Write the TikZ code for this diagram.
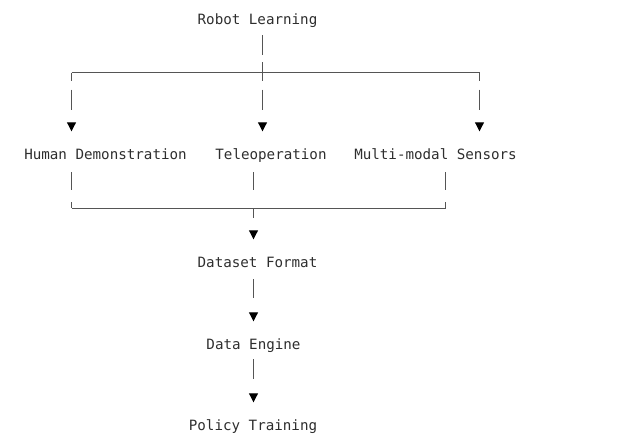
\documentclass[tikz,border=0pt]{standalone}
\usepackage{fontspec}
\setmonofont{DejaVu Sans Mono}
\usetikzlibrary{arrows.meta}
\definecolor{inkgray}{HTML}{2E2E2E}
\definecolor{rulegray}{HTML}{555555}

\begin{document}
\begin{tikzpicture}[x=1pt, y=-1pt,
    lbl/.style={anchor=base, inner sep=0pt, text height=10.5pt, text depth=3pt,
      text=inkgray, font=\ttfamily\fontsize{14.2}{17}\selectfont},
    rule/.style={draw=rulegray, line width=1pt},
    drop/.style={rule, -{Triangle[width=9pt, length=9pt, color=black]}, shorten >=17pt}]
    \useasboundingbox (0,0) rectangle (617,442);

    \node[lbl] (robot) at (257.5,24) {Robot Learning};

    \node[lbl] (human) at (105.5,159) {Human Demonstration};
    \node[lbl] (teleop) at (271,159) {Teleoperation};
    \node[lbl] (sensors) at (435.5,159) {Multi-modal Sensors};

    \node[lbl] (dataset) at (257.5,267) {Dataset Format};
    \node[lbl] (engine) at (253.5,349) {Data Engine};
    \node[lbl] (policy) at (253,430) {Policy Training};

    \coordinate (splitL) at (71.5,72.5);
    \coordinate (splitC) at (262.5,72.5);
    \coordinate (splitR) at (479.5,72.5);

    \coordinate (joinL) at (71.5,208.5);
    \coordinate (joinC) at (253.5,208.5);
    \coordinate (joinR) at (445.5,208.5);

    \draw[rule, shorten <=8pt, dash pattern=on 20pt off 7pt] (robot.south -| splitC) -- (splitC);
    \draw[rule] (splitL) -- (splitR);

    \draw[drop, dash pattern=on 8pt off 9pt on 20pt off 100pt] (splitL) -- (splitL |- human.north);
    \draw[drop, dash pattern=on 8pt off 9pt on 20pt off 100pt] (splitC) -- (splitC |- teleop.north);
    \draw[drop, dash pattern=on 8pt off 9pt on 20pt off 100pt] (splitR) -- (splitR |- sensors.north);

    \draw[rule, shorten <=10pt, dash pattern=on 18pt off 12pt on 6pt] (human.south -| joinL) -- (joinL);
    \draw[rule, shorten <=10pt, dash pattern=on 18pt off 40pt] (teleop.south -| joinC) -- (joinC);
    \draw[rule, shorten <=10pt, dash pattern=on 18pt off 12pt on 6pt] (sensors.south -| joinR) -- (joinR);
    \draw[rule] (joinL) -- (joinR);

    \draw[drop, dash pattern=on 9pt off 100pt] (joinC) -- (joinC |- dataset.north);
    \draw[drop, shorten <=9pt, dash pattern=on 19pt off 100pt] (dataset.south -| joinC) -- (joinC |- engine.north);
    \draw[drop, shorten <=7pt, dash pattern=on 20pt off 100pt] (engine.south -| joinC) -- (joinC |- policy.north);
\end{tikzpicture}
\end{document}
